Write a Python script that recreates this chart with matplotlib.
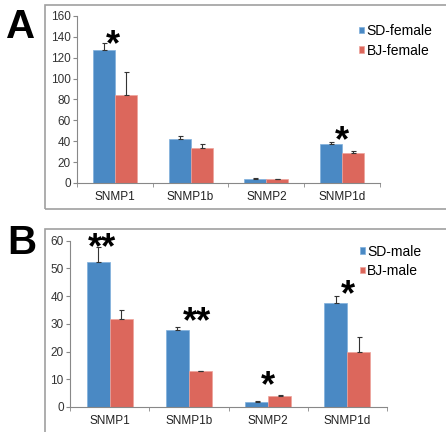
import numpy as np
import matplotlib.pyplot as plt
from matplotlib.patches import Rectangle

plt.rcParams['font.family'] = ['Liberation Sans', 'DejaVu Sans']

genes = ["SNMP1", "SNMP1b", "SNMP2", "SNMP1d"]

sd_female = [127.5, 42.0, 3.8, 37.8]
sd_female_err = [6.8, 3.2, 0.7, 1.0]
bj_female = [84.5, 33.3, 3.5, 28.9]
bj_female_err = [21.5, 4.1, 0.7, 1.8]

sd_male = [52.2, 27.6, 1.9, 37.5]
sd_male_err = [5.5, 1.4, 0.15, 2.5]
bj_male = [31.9, 13.0, 3.85, 19.7]
bj_male_err = [3.0, 0.15, 0.45, 5.7]

# significance marks: (x position, y position, text)
stars_a = [(-0.02, 132, "*"), (3.0, 40, "*")]
stars_b = [(-0.1, 57, "**"), (1.1, 30.3, "**"), (2.0, 7.2, "*"), (3.0, 40, "*")]

blue = "#4a89c4"
red = "#dc675c"
width = 0.29

fig = plt.figure(figsize=(4.46, 4.32), dpi=100)

# gray frames around each panel
fig.patches.append(Rectangle((0.101, 0.516), 0.91, 0.472, transform=fig.transFigure,
                             fill=False, edgecolor="#a0a0a0", linewidth=1.2))
fig.patches.append(Rectangle((0.101, -0.01), 0.91, 0.48, transform=fig.transFigure,
                             fill=False, edgecolor="#a0a0a0", linewidth=1.2))


def draw_panel(ax, sd, sd_err, bj, bj_err, ymax, step, labels, stars, leg_pos):
    x = np.arange(len(genes))
    ekw = dict(ecolor="#333333", elinewidth=0.8, capsize=1.8, capthick=0.8)
    ax.bar(x - width / 2, sd, width, color=blue, edgecolor="#7fb0dc", linewidth=0.5,
           yerr=[np.zeros(len(sd)), sd_err], error_kw=ekw, label=labels[0], zorder=2)
    ax.bar(x + width / 2, bj, width, color=red, edgecolor="#eda39b", linewidth=0.5,
           yerr=[np.zeros(len(bj)), bj_err], error_kw=ekw, label=labels[1], zorder=2)
    ax.set_xlim(-0.5, len(genes) - 0.5)
    ax.set_ylim(0, ymax)
    ax.set_yticks(np.arange(0, ymax + 1, step))
    ax.set_xticks(x)
    ax.set_xticklabels(genes)
    ax.set_xticks(np.arange(-0.5, len(genes), 1), minor=True)
    ax.tick_params(axis="x", which="major", length=0, labelsize=8.5, pad=6, colors="#222222")
    ax.tick_params(axis="x", which="minor", length=3, color="#888888")
    ax.tick_params(axis="y", length=3, color="#888888", labelsize=8.5, labelcolor="#333333", pad=1.5)
    for s in ["top", "right"]:
        ax.spines[s].set_visible(False)
    for s in ["left", "bottom"]:
        ax.spines[s].set_color("#888888")
        ax.spines[s].set_linewidth(0.8)
    for sx, sy, txt in stars:
        ax.text(sx, sy, txt, ha="center", va="center", fontsize=26, fontweight="bold")
    ax.legend(loc="upper left", bbox_to_anchor=leg_pos, frameon=False, fontsize=10,
              handlelength=0.35, handleheight=0.35, handletextpad=0.2, labelspacing=0.4,
              borderaxespad=0)


ax_a = fig.add_axes([0.1726, 0.5764, 0.6794, 0.3866])
draw_panel(ax_a, sd_female, sd_female_err, bj_female, bj_female_err, 160, 20,
           ["SD-female", "BJ-female"], stars_a, (0.913, 0.985))

ax_b = fig.add_axes([0.157, 0.0579, 0.711, 0.3849])
draw_panel(ax_b, sd_male, sd_male_err, bj_male, bj_male_err, 60, 10,
           ["SD-male", "BJ-male"], stars_b, (0.896, 1.01))

fig.text(0.046, 0.937, "A", fontsize=29, fontweight="bold", ha="center", va="center")
fig.text(0.049, 0.437, "B", fontsize=29, fontweight="bold", ha="center", va="center")

fig.savefig("out.png", dpi=100)
